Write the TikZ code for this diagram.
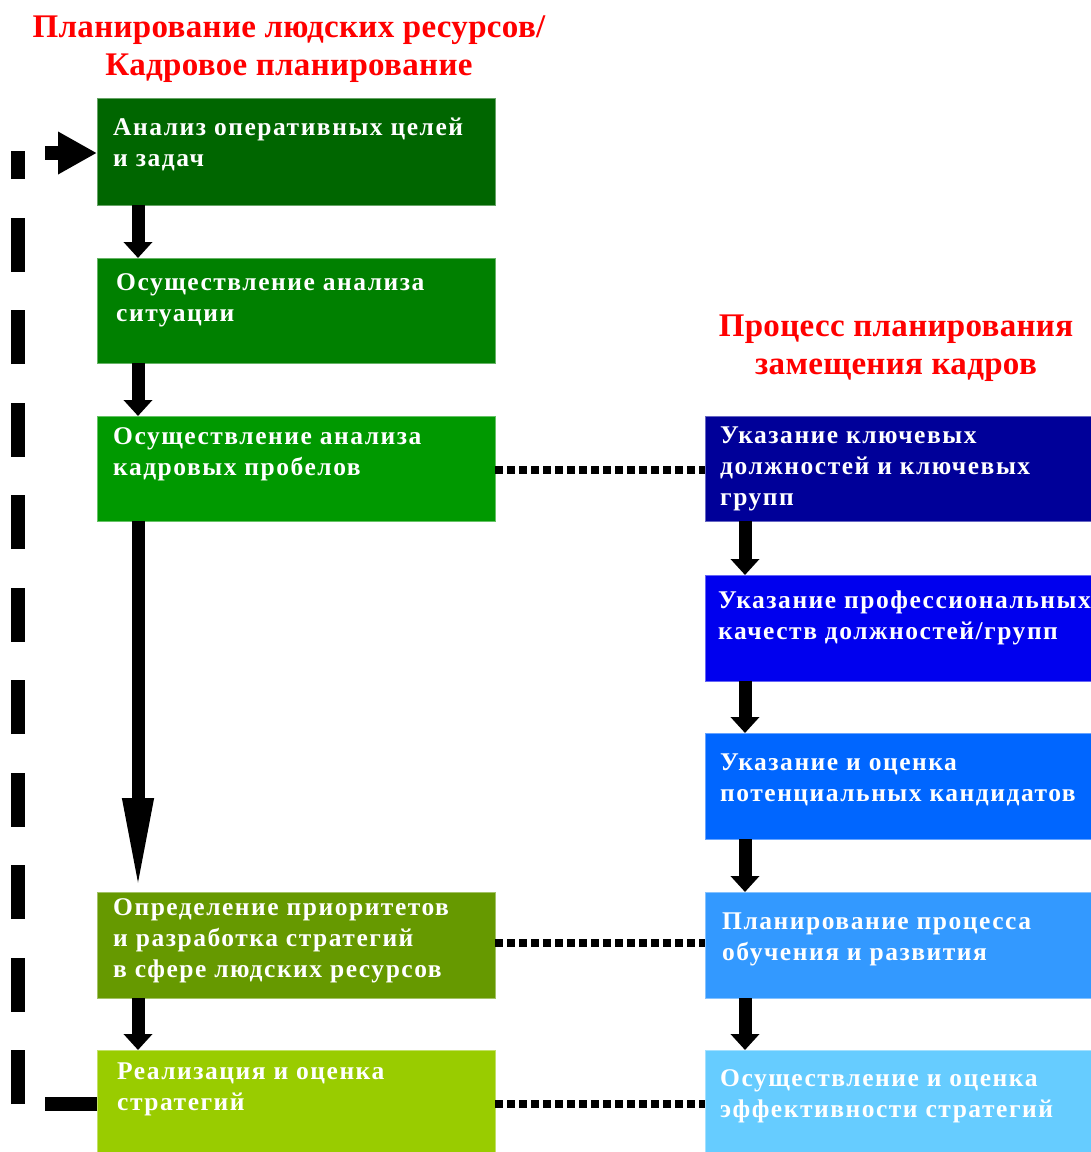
\documentclass[tikz,border=0pt]{standalone}
\usepackage{fontspec}
\setmainfont{Liberation Serif}
\newfontfamily\boxfont{Liberation Serif Bold}[LetterSpace=6]
\newfontfamily\ttlfont{Liberation Serif Bold}[LetterSpace=1]
\usetikzlibrary{arrows.meta}
\definecolor{cLa}{HTML}{006600}
\definecolor{cLb}{HTML}{008000}
\definecolor{cLc}{HTML}{009900}
\definecolor{cLd}{HTML}{669900}
\definecolor{cLe}{HTML}{99CC00}
\definecolor{cRa}{HTML}{000099}
\definecolor{cRb}{HTML}{0000EE}
\definecolor{cRc}{HTML}{0066FF}
\definecolor{cRd}{HTML}{3399FF}
\definecolor{cRe}{HTML}{66CCFF}
\definecolor{ttlred}{HTML}{FF0000}
\tikzset{
  lbox/.style={rectangle, fill=#1, draw=#1!60!white, line width=0.8pt, inner sep=0pt, outer sep=0pt,
    minimum width=398pt, anchor=north west},
  rbox/.style={rectangle, fill=#1, draw=#1!60!white, line width=0.8pt, inner sep=0pt, outer sep=0pt,
    minimum width=390pt, anchor=north west},
  boxtext/.style={anchor=west, inner sep=0pt, align=left, text=white,
    font=\boxfont\fontsize{25.5}{31}\selectfont},
  ttl/.style={inner sep=0pt, align=center, text=ttlred,
    font=\ttlfont\fontsize{33}{38}\selectfont},
  flowarrow/.style={line width=13pt, -{Triangle[width=28pt,length=16pt]}},
  dotlink/.style={line width=8pt, dash pattern=on 8pt off 4pt},
}
\begin{document}
\begin{tikzpicture}[x=1pt,y=-1pt]
\clip (0,0) rectangle (1091,1152);
\fill[white] (0,0) rectangle (1091,1152);
% titles
\node[ttl] (t1) at (289,49) {Планирование людских ресурсов/\\Кадровое планирование};
\node[ttl] (t2) at (896,348) {Процесс планирования\\замещения кадров};
% left boxes
\node[lbox=cLa, minimum height=107pt] (L1) at (97,98) {};
\node[lbox=cLb, minimum height=105pt] (L2) at (97,258) {};
\node[lbox=cLc, minimum height=105pt] (L3) at (97,416) {};
\node[lbox=cLd, minimum height=106pt] (L4) at (97,892) {};
\node[lbox=cLe, minimum height=104pt] (L5) at (97,1050) {};
% right boxes
\node[rbox=cRa, minimum height=105pt] (R1) at (705,416) {};
\node[rbox=cRb, minimum height=106pt] (R2) at (705,575) {};
\node[rbox=cRc, minimum height=106pt] (R3) at (705,733) {};
\node[rbox=cRd, minimum height=106pt] (R4) at (705,892) {};
\node[rbox=cRe, minimum height=104pt] (R5) at (705,1050) {};
% texts
\node[boxtext] (tL1) at (113,144.5) {Анализ оперативных целей\\и задач};
\node[boxtext] (tL2) at (116,300.5) {Осуществление анализа\\ситуации};
\node[boxtext] (tL3) at (113,454.5) {Осуществление анализа\\кадровых пробелов};
\node[boxtext] (tL4) at (113,941) {Определение приоритетов\\и разработка стратегий\\в сфере людских ресурсов};
\node[boxtext] (tL5) at (117,1089.5) {Реализация и оценка\\стратегий};
\node[boxtext] (tR1) at (720,469) {Указание ключевых\\должностей и ключевых\\групп};
\node[boxtext] (tR2) at (718,618) {Указание профессиональных\\качеств должностей/групп};
\node[boxtext] (tR3) at (720,779.5) {Указание и оценка\\потенциальных кандидатов};
\node[boxtext] (tR4) at (722,939) {Планирование процесса\\обучения и развития};
\node[boxtext] (tR5) at (720,1096.5) {Осуществление и оценка\\эффективности стратегий};
% flow arrows left
\draw[flowarrow] ([xshift=41pt]L1.south west) -- ([xshift=41pt]L2.north west);
\draw[flowarrow] ([xshift=41pt]L2.south west) -- ([xshift=41pt]L3.north west);
\draw[line width=13pt, -{Triangle[width=28pt,length=94pt]}] ([xshift=41pt]L3.south west) -- ([xshift=41pt]L4.north west);
\draw[flowarrow] ([xshift=41pt]L4.south west) -- ([xshift=41pt]L5.north west);
% flow arrows right
\draw[flowarrow] ([xshift=40pt]R1.south west) -- ([xshift=40pt]R2.north west);
\draw[flowarrow] ([xshift=40pt]R2.south west) -- ([xshift=40pt]R3.north west);
\draw[flowarrow] ([xshift=40pt]R3.south west) -- ([xshift=40pt]R4.north west);
\draw[flowarrow] ([xshift=40pt]R4.south west) -- ([xshift=40pt]R5.north west);
% dotted links
\draw[dotlink] ([yshift=-1pt]L3.east) -- ([yshift=-1pt]R1.west);
\draw[dotlink] ([yshift=2pt]L4.east) -- ([yshift=2pt]R4.west);
\draw[dotlink] ([yshift=-2pt]L5.east) -- ([yshift=-2pt]R5.west);
% feedback loop
\coordinate (fbA) at (45,1103);
\coordinate (fbB) at (18,1104);
\coordinate (fbC) at (18,151);
\coordinate (fbD) at (45,153);
\draw[line width=14pt] ([yshift=-2pt]L5.west) -- ([yshift=-2pt]fbA |- L5.west);
\draw[line width=14pt, dash pattern=on 54pt off 38.5pt] (fbB) -- (fbC);
\draw[line width=14pt, -{Triangle[width=40pt,length=39pt]}] ([yshift=-1.5pt]fbD |- L1.west) -- ([yshift=-1.5pt]L1.west);
\end{tikzpicture}
\end{document}
